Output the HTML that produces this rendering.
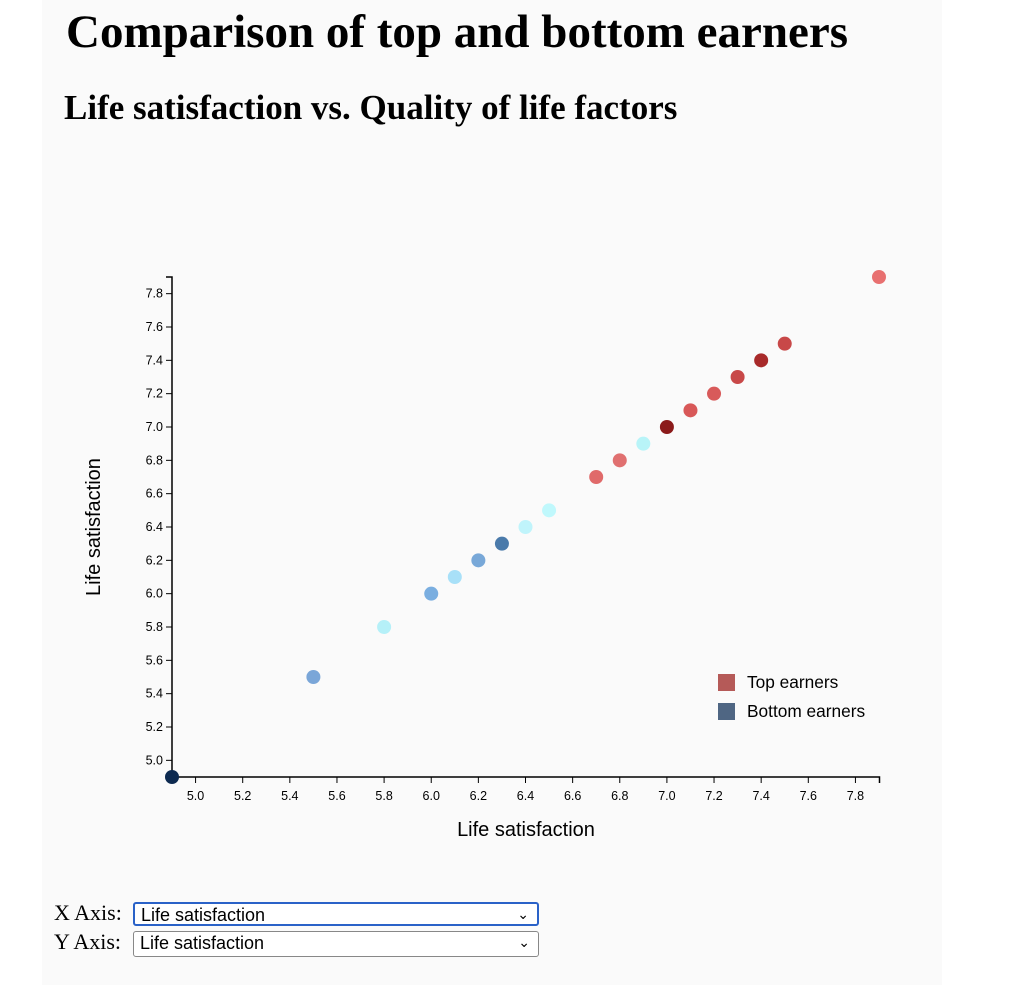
<!DOCTYPE html>
<html><head><meta charset="utf-8"><style>
body{margin:0;background:#fff;width:1022px;height:988px;overflow:hidden;font-family:"Liberation Serif",serif;}
#panel{position:absolute;left:42px;top:0;width:900px;height:985px;background:#fafafa;}
h1{position:absolute;left:66px;top:5px;margin:0;font-size:47px;font-weight:bold;white-space:nowrap;}
h2{position:absolute;left:64px;top:88px;margin:0;font-size:35px;font-weight:bold;white-space:nowrap;}
svg{position:absolute;left:0;top:0;}
.ctl{position:absolute;left:54px;font-size:22px;}
.sel{position:absolute;left:133px;border:1px solid #888;border-radius:3px;background:#fff;font-family:"Liberation Sans",sans-serif;font-size:18px;line-height:22px;padding-left:6px;box-sizing:border-box;width:406px;}
</style></head><body>
<div id="panel"></div>
<h1>Comparison of top and bottom earners</h1>
<h2>Life satisfaction vs. Quality of life factors</h2>
<svg id="chart" width="1022" height="988"></svg>
<div class="ctl" style="top:900px">X Axis:</div>
<div class="sel" style="top:902px;height:24px;border:2px solid #2a62c8;">Life satisfaction<span style="position:absolute;right:8px;top:-1px;font-size:14px;">&#8964;</span></div>
<div class="ctl" style="top:929px">Y Axis:</div>
<div class="sel" style="top:931px;height:26px;">Life satisfaction<span style="position:absolute;right:8px;top:-1px;font-size:14px;">&#8964;</span></div>
<script>
const xVals=[4.9,5.5,5.8,6.0,6.1,6.2,6.3,6.4,6.5,6.7,6.8,6.9,7.0,7.1,7.2,7.3,7.4,7.5,7.9];
const yVals=[4.9,5.5,5.8,6.0,6.1,6.2,6.3,6.4,6.5,6.7,6.8,6.9,7.0,7.1,7.2,7.3,7.4,7.5,7.9];
const colors=["#0d2a50","#7aa6d8","#b5f0f8","#7aaee0","#a8e0f8","#78a8d8","#4a7aaa","#c0f4fb","#c0f8fc","#e06a6a","#e07070","#b8f4f8","#8b1a1a","#d85858","#d85a5a","#c84848","#a82a2a","#c84848","#e87070"];
const ticks=[5.0,5.2,5.4,5.6,5.8,6.0,6.2,6.4,6.6,6.8,7.0,7.2,7.4,7.6,7.8];
const legendLabels=["Top earners","Bottom earners"];
const legendColors=["#b55a58","#4f6683"];
const NS="http://www.w3.org/2000/svg";
const svg=document.getElementById('chart');
const X0=172,X1=879,Y0=777,Y1=277,D0=4.9,D1=7.9;
const sx=v=>X0+(v-D0)/(D1-D0)*(X1-X0);
const sy=v=>Y0-(v-D0)/(D1-D0)*(Y0-Y1);
function mk(t,a,txt){const e=document.createElementNS(NS,t);for(const k in a)e.setAttribute(k,a[k]);if(txt!=null)e.textContent=txt;svg.appendChild(e);return e;}
const font='"Liberation Sans",sans-serif';
let e=mk('path',{d:`M${X0},${Y0}H${X1+0.5}V${Y0+6}`,stroke:'#000',fill:'none','stroke-width':1.5});

e=mk('path',{d:`M${X0-6},${Y1}H${X0}V${Y0}`,stroke:'#000',fill:'none','stroke-width':1.5});

ticks.forEach(t=>{
 let l=mk('line',{x1:sx(t),x2:sx(t),y1:Y0,y2:Y0+6,stroke:'#000'});
 
 let tx=mk('text',{x:sx(t),y:Y0+23,'text-anchor':'middle','font-size':12.5,'font-family':font},t.toFixed(1));
 
 l=mk('line',{x1:X0-6,x2:X0,y1:sy(t),y2:sy(t),stroke:'#000'});
 
 tx=mk('text',{x:X0-9,y:sy(t)+4,'text-anchor':'end','font-size':12.5,'font-family':font},t.toFixed(1));
 
});
e=mk('text',{x:526,y:836,'text-anchor':'middle','font-size':20,'font-family':font},'Life satisfaction');

e=mk('text',{x:100,y:527,'text-anchor':'middle','font-size':20,'font-family':font,transform:'rotate(-90 100 527)'},'Life satisfaction');

xVals.forEach((v,i)=>{
 const c=mk('circle',{cx:sx(v),cy:sy(yVals[i]),r:7,fill:colors[i]});
 
});
legendLabels.forEach((lab,i)=>{
 const r=mk('rect',{x:718,y:674+i*29,width:17,height:17,fill:legendColors[i]});
 
 const t=mk('text',{x:747,y:688+i*29,'font-size':17.3,'font-family':font},lab);
 
});
</script>
</body></html>
